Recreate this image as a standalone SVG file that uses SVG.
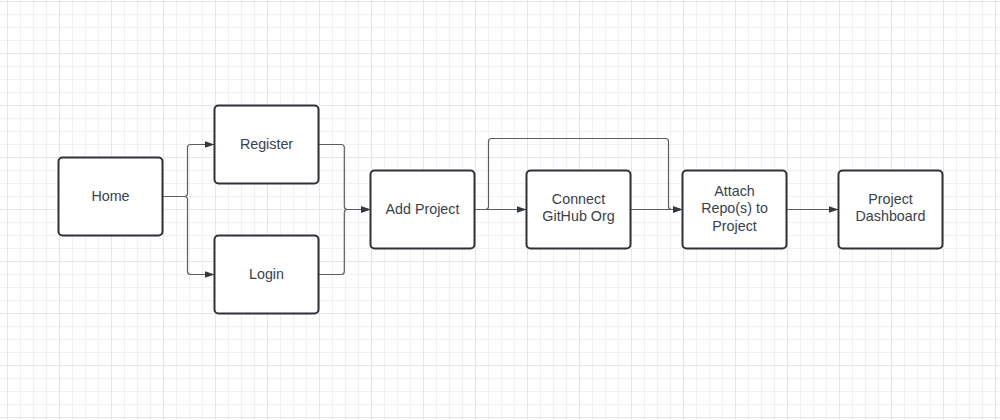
<svg xmlns="http://www.w3.org/2000/svg" width="1000" height="420" viewBox="0 0 1000 420">
<defs>
<pattern id="grid" patternUnits="userSpaceOnUse" x="7" y="1" width="52" height="52">
<path d="M13.5 0V52M26.5 0V52M39.5 0V52M0 13.5H52M0 26.5H52M0 39.5H52" stroke="#f1f1f1" stroke-width="1" fill="none"/>
<path d="M0.5 0V52M0 0.5H52" stroke="#e6e6e6" stroke-width="1" fill="none"/>
</pattern>
<marker id="arr" markerUnits="userSpaceOnUse" viewBox="0 0 10 7" refX="10" refY="3.5" markerWidth="10" markerHeight="7" orient="auto">
<path d="M0 0L10 3.5L0 7Z" fill="#333840"/>
</marker>
<style>
.box{fill:#ffffff;stroke:#2e3238;stroke-width:2}
.lbl{font-family:"Liberation Sans",Arial,sans-serif;font-size:14.3px;fill:#3a414a;text-anchor:middle}
.c{fill:none;stroke:#5a5d62;stroke-width:1.2}
</style>
</defs>
<rect width="1000" height="420" fill="#ffffff"/>
<rect width="1000" height="420" fill="url(#grid)"/>
<g id="connectors">
<path class="c" d="M162.5 196.5H184.5Q187.5 196.5 187.5 193.5V147.5Q187.5 144.5 190.5 144.5H214.5" marker-end="url(#arr)"/>
<path class="c" d="M162.5 196.5H184.5Q187.5 196.5 187.5 199.5V271.5Q187.5 274.5 190.5 274.5H214.5" marker-end="url(#arr)"/>
<path class="c" d="M318.5 144.5H341.3Q344.3 144.5 344.3 147.5V206.5Q344.3 209.5 347.3 209.5H370.5" marker-end="url(#arr)"/>
<path class="c" d="M318.5 274.5H341.3Q344.3 274.5 344.3 271.5V212.5Q344.3 209.5 347.3 209.5H370.5" marker-end="url(#arr)"/>
<path class="c" d="M474.5 209.5H526.5" marker-end="url(#arr)"/>
<path class="c" d="M474.5 209.5H485.5Q488.5 209.5 488.5 206.5V141.5Q488.5 138.5 491.5 138.5H665.5Q668.5 138.5 668.5 141.5V206.5Q668.5 209.5 671.5 209.5H682.5" marker-end="url(#arr)"/>
<path class="c" d="M630.5 209.5H682.5" marker-end="url(#arr)"/>
<path class="c" d="M786.5 209.5H838.5" marker-end="url(#arr)"/>
</g>
<g id="home"><rect class="box" x="58.5" y="157.5" width="104" height="78" rx="4"/><text class="lbl" x="110.5" y="201">Home</text></g>
<g id="register"><rect class="box" x="214.5" y="105.5" width="104" height="78" rx="4"/><text class="lbl" x="266.5" y="149">Register</text></g>
<g id="login"><rect class="box" x="214.5" y="235.5" width="104" height="78" rx="4"/><text class="lbl" x="266.5" y="279">Login</text></g>
<g id="add-project"><rect class="box" x="370.5" y="170.5" width="104" height="78" rx="4"/><text class="lbl" x="422.5" y="214">Add Project</text></g>
<g id="connect-github"><rect class="box" x="526.5" y="170.5" width="104" height="78" rx="4"/><text class="lbl" x="578.5" y="204">Connect</text><text class="lbl" x="578.5" y="221">GitHub Org</text></g>
<g id="attach-repos"><rect class="box" x="682.5" y="170.5" width="104" height="78" rx="4"/><text class="lbl" x="734.5" y="196">Attach</text><text class="lbl" x="734.5" y="213.3">Repo(s) to</text><text class="lbl" x="734.5" y="230.6">Project</text></g>
<g id="project-dashboard"><rect class="box" x="838.5" y="170.5" width="104" height="78" rx="4"/><text class="lbl" x="890.5" y="204">Project</text><text class="lbl" x="890.5" y="220.7">Dashboard</text></g>
</svg>
